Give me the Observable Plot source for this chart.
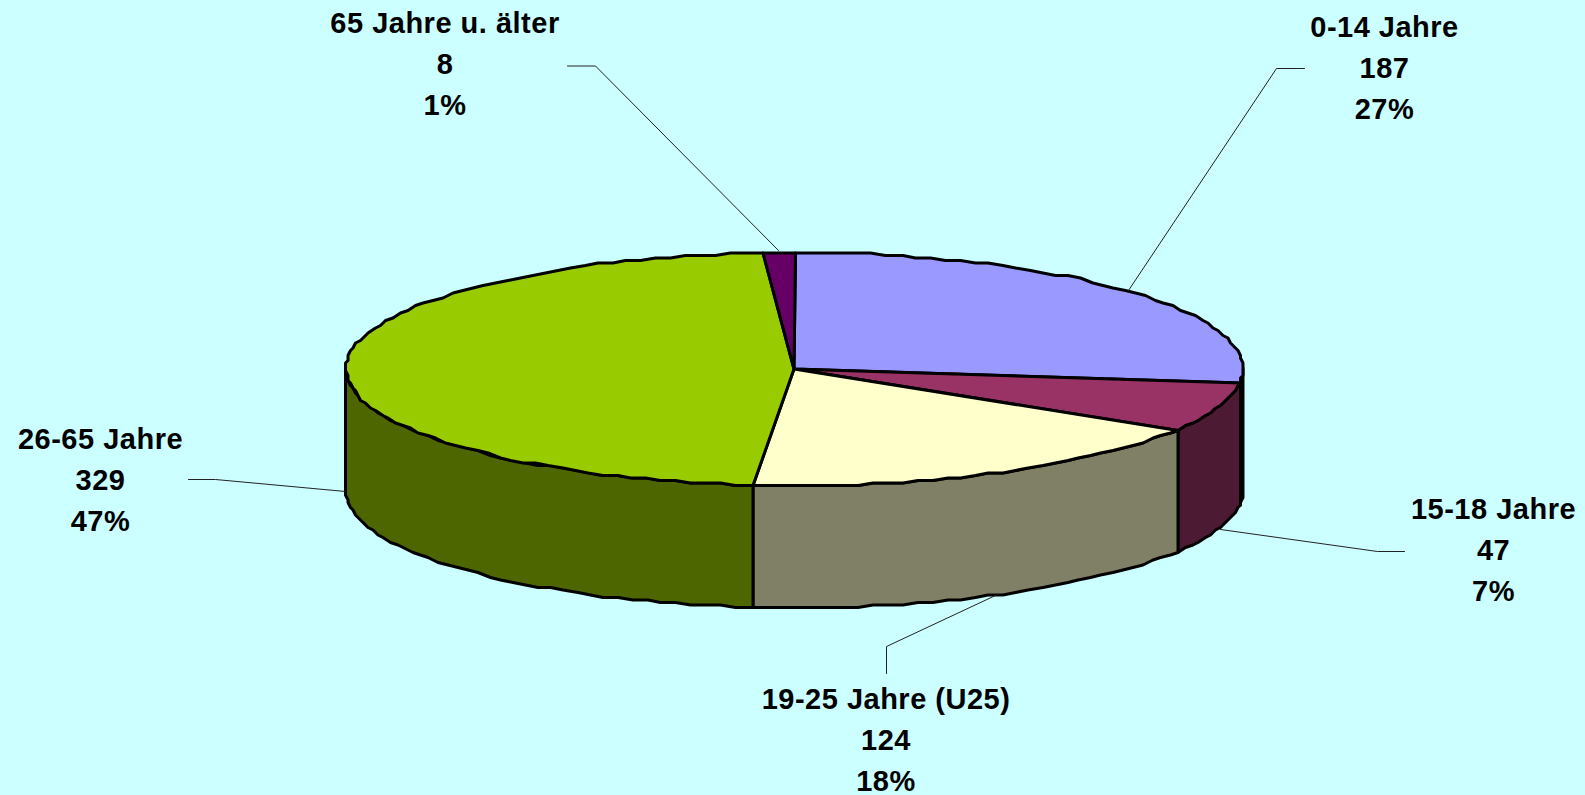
<!DOCTYPE html>
<html>
<head>
<meta charset="utf-8">
<script src="https://cdn.jsdelivr.net/npm/d3@7"></script>
<script src="https://cdn.jsdelivr.net/npm/@observablehq/plot@0.6"></script>
<style>
html,body{margin:0;padding:0;background:#CCFFFF;overflow:hidden}
svg{display:block}
svg text{letter-spacing:0.5px}
</style>
</head>
<body>
<div id="chart"></div>
<script>
const categories = ["0-14 Jahre", "15-18 Jahre", "19-25 Jahre (U25)", "26-65 Jahre", "65 Jahre u. älter"];
const values = [187, 47, 124, 329, 8];
const topColors = ["#9999FF", "#993366", "#FFFFCC", "#99CC00", "#660066"];
const sideColors = ["#4D4D80", "#4D1A33", "#808066", "#4D6600", "#330033"];

// Layout of the tilted pie and its callouts, in page pixels
const pie = {cx: 794, cy: 368.5, rx: 448.5, ry: 116.5, depth: 122, grid: 2.5, stepDeg: 2, hubX: 793.5, hubY: 368.5};
const labelAt = [[1384, 118], [1493, 600], [885.5, 790], [100, 530], [444.5, 114]];
const leaders = [
  [[1304, 68], [1276, 68], [1128, 290]],
  [[1404, 551], [1377, 551], [1220, 529]],
  [[886, 673], [886, 646], [995, 595]],
  [[188, 479], [215, 479], [345, 491]],
  [[567, 65.5], [595, 65.5], [778, 250]]
];

const total = d3.sum(values);
const cum = d3.cumsum(values);
const snap = v => Math.round(v / pie.grid) * pie.grid;
const rad = d => d * Math.PI / 180;
const rim = (deg, dy = 0) => ({
  x: snap(pie.cx + pie.rx * Math.sin(rad(deg))),
  y: snap(pie.cy - pie.ry * Math.cos(rad(deg))) + dy
});
function arc(a0, a1, dy = 0) {
  const n = Math.max(1, Math.ceil(Math.abs(a1 - a0) / pie.stepDeg));
  return d3.range(n + 1).map(i => rim(a0 + (a1 - a0) * i / n, dy));
}
const spans = values.map((v, i) => [(i ? cum[i - 1] : 0) / total * 360, cum[i] / total * 360]);
const centre = {x: pie.hubX, y: pie.hubY};

const polygon = (pts, fill) => Plot.line([...pts, pts[0]], {
  x: "x", y: "y", fill, stroke: "black", strokeWidth: 3,
  strokeLinejoin: "round", curve: "linear"
});

const walls = [];
spans.forEach(([a0, a1], i) => {
  const s = Math.max(a0, 90), e = Math.min(a1, 270);
  if (s < e) walls.push(polygon([...arc(s, e), ...arc(e, s, pie.depth)], sideColors[i]));
});
const tops = spans.map(([a0, a1], i) => polygon([centre, ...arc(a0, a1)], topColors[i]));

const leaderRows = leaders.flatMap((pts, i) => pts.map(([x, y]) => ({x, y, i})));
const labels = categories.map((c, i) => ({
  text: `${c}\n${values[i]}\n${Math.round(values[i] / total * 100)}%`,
  x: labelAt[i][0], y: labelAt[i][1]
}));

const chart = Plot.plot({
  width: 1585, height: 795,
  margin: 0,
  style: {background: "#CCFFFF"},
  x: {domain: [0, 1585], range: [0, 1585], axis: null},
  y: {domain: [0, 795], range: [0, 795], axis: null},
  marks: [
    ...walls,
    ...tops,
    Plot.line(leaderRows, {x: "x", y: "y", z: "i", stroke: "#222", strokeWidth: 1}),
    Plot.text(labels, {
      x: "x", y: "y", text: "text", textAnchor: "middle", lineAnchor: "bottom", lineHeight: 1.41,
      fontFamily: "Liberation Sans", fontWeight: "bold", fontSize: 29, fill: "black"
    })
  ]
});
document.getElementById("chart").append(chart);
</script>
</body>
</html>
